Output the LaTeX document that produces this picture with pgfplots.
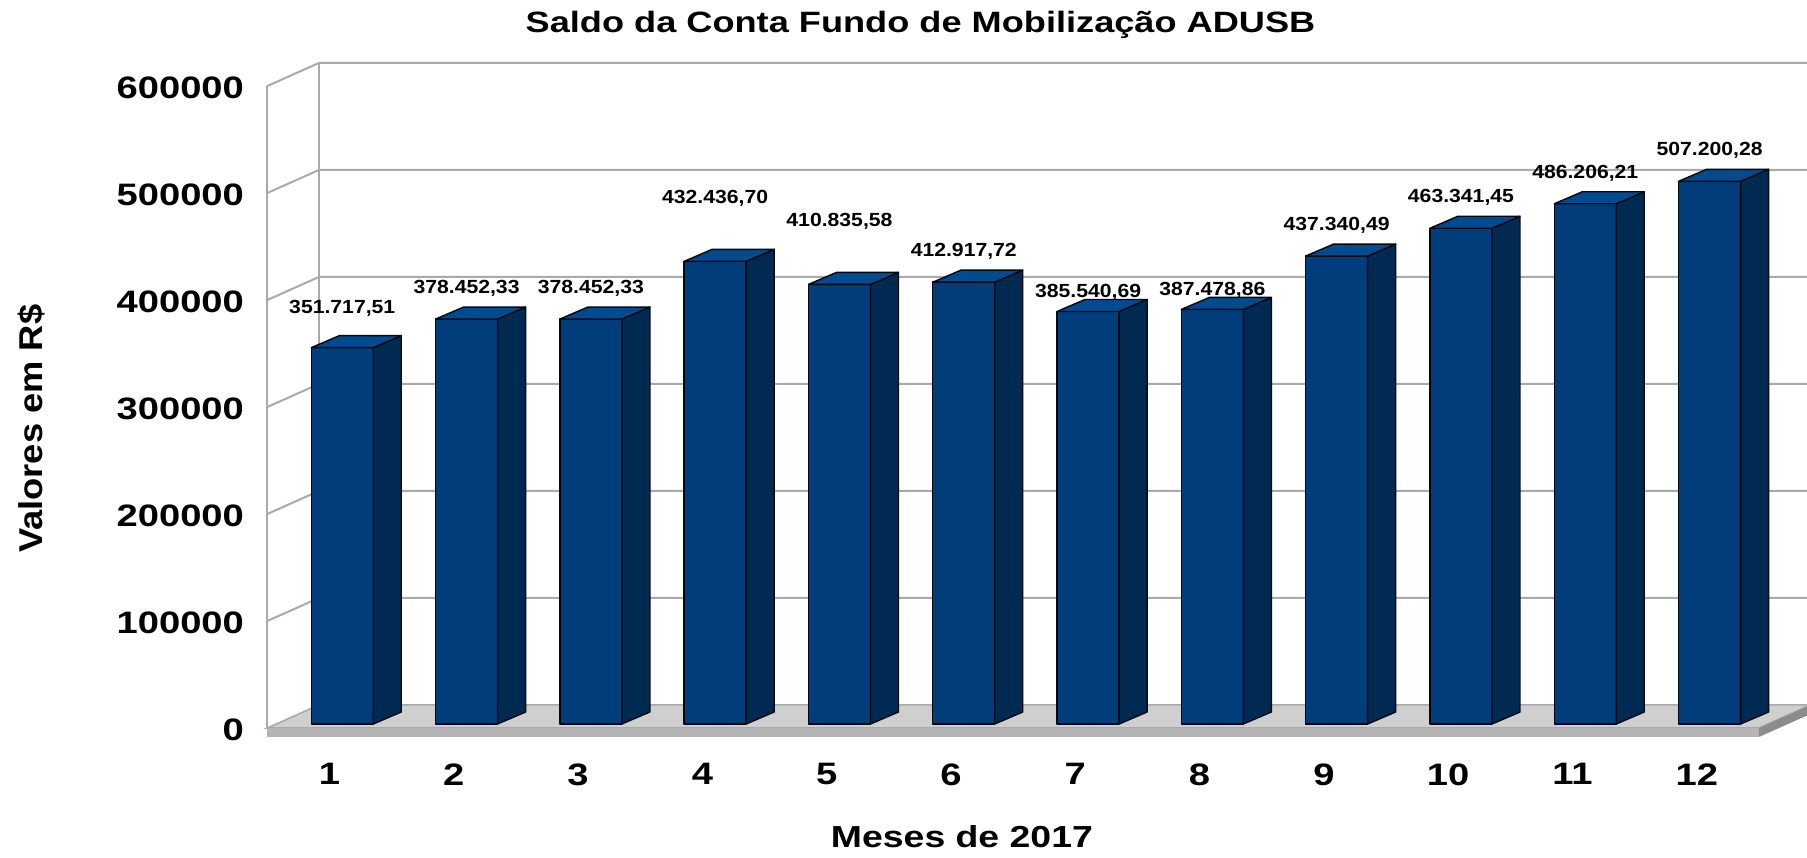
\documentclass[border=0pt]{standalone}
\usepackage{fontspec}
\setmainfont{Liberation Sans}[FakeStretch=1.23]
\newfontfamily\lab{Liberation Sans}[FakeStretch=1.115]
\newfontfamily\ylab{Liberation Sans}[FakeStretch=1.1]
\usepackage{pgfplots}
\pgfplotsset{compat=1.18}
\definecolor{barfront}{RGB}{0,61,122}
\definecolor{bartop}{RGB}{0,74,142}
\definecolor{barside}{RGB}{0,42,82}
\definecolor{gridc}{RGB}{170,170,170}
\definecolor{floortop}{RGB}{207,207,207}
\definecolor{floorfront}{RGB}{180,180,180}
\definecolor{floorside}{RGB}{140,140,140}

\newcommand{\dX}{0.4183}
\newcommand{\dY}{21682}
\newcommand{\bW}{0.4988}
\newcommand{\bA}{0.103}
\newcommand{\bB}{3738}
\newcommand{\bdX}{0.2253}
\newcommand{\bdY}{11215}

% #1 month, #2 value, #3 label text, #4 extra vertical shift of the label (pt)
\newcommand{\drawbar}[4]{%
  \edef\xL{\fpeval{#1+\bA-\bW/2}}%
  \edef\xR{\fpeval{#1+\bA+\bW/2}}%
  \edef\xLd{\fpeval{#1+\bA-\bW/2+\bdX}}%
  \edef\xRd{\fpeval{#1+\bA+\bW/2+\bdX}}%
  \edef\xC{\fpeval{#1+\bA}}%
  \edef\yB{\fpeval{\bB}}%
  \edef\yBd{\fpeval{\bB+\bdY}}%
  \edef\yT{\fpeval{#2+\bB}}%
  \edef\yTd{\fpeval{#2+\bB+\bdY}}%
  \edef\lsh{\fpeval{12.85+#4}pt}%
  \edef\temp{%
    \noexpand\addplot[barstyle, fill=barfront] coordinates {(\xL,\yB) (\xR,\yB) (\xR,\yT) (\xL,\yT)} -- cycle;
    \noexpand\addplot[barstyle, fill=barside] coordinates {(\xR,\yB) (\xRd,\yBd) (\xRd,\yTd) (\xR,\yT)} -- cycle;
    \noexpand\addplot[barstyle, fill=bartop] coordinates {(\xL,\yT) (\xR,\yT) (\xRd,\yTd) (\xLd,\yTd)} -- cycle;
    \noexpand\addplot[draw=none, valuelabel, every node near coord/.append style={yshift=\lsh}, nodes near coords={#3}] coordinates {(\xC,\yT)};
  }\temp
}

\newcommand{\gridlev}[1]{%
  \edef\xa{\fpeval{0.5+\dX}}%
  \edef\ya{\fpeval{#1+\dY}}%
  \edef\temp{%
    \noexpand\addplot[gridc, line width=1pt] coordinates {(0.5,#1) (\xa,\ya) (13.2,\ya)};
  }\temp
}

\begin{document}
\begin{tikzpicture}
\path[use as bounding box] (0,0) rectangle (903.5pt,428.5pt);
\begin{axis}[
  at={(133.65pt,64.5pt)}, anchor=south west,
  scale only axis, width=745.8pt, height=321pt,
  xmin=0.5, xmax=12.5, ymin=0, ymax=600000,
  clip=false, no markers,
  axis line style={draw=none}, tick style={draw=none}, major tick length=0pt,
  xtick={1,2,3,4,5,6,7,8,9,10,11,12},
  xticklabels={1,2,3,4,5,6,7,8,9,10,11,12},
  ytick={0,100000,200000,300000,400000,500000,600000},
  yticklabels={0,100000,200000,300000,400000,500000,600000},
  scaled y ticks=false,
  ticklabel style={font=\bfseries\fontsize{15.5}{18}\selectfont, text=black},
  yticklabel style={anchor=east, inner sep=0pt, xshift=-11.5pt, yshift=-1pt},
  xticklabel style={anchor=north, inner sep=0pt, yshift=-17.5pt},
  title={Saldo da Conta Fundo de Mobilização ADUSB},
  title style={at={(axis description cs:0.4379,1.0654)}, anchor=base, inner sep=0pt,
    font=\bfseries\fontsize{14.7}{17}\selectfont},
  xlabel={Meses de 2017},
  xlabel style={at={(axis description cs:0.4657,-0.1854)}, anchor=base, inner sep=0pt,
    font=\bfseries\fontsize{15.2}{18}\selectfont},
  ylabel={Valores em R\$},
  ylabel style={at={(axis description cs:-0.151,0.4662)}, anchor=base, rotate=0, inner sep=0pt,
    font=\ylab\bfseries\fontsize{16.5}{19}\selectfont},
  barstyle/.style={draw=black!85!barfront, line width=0.7pt, line join=round},
  valuelabel/.style={every node near coord/.append style={anchor=base, inner sep=0pt,
    font=\lab\bfseries\fontsize{9.5}{11}\selectfont, text=black}},
]
% back wall and left wall grid
\addplot[gridc, line width=1pt] coordinates {(0.5,0) (0.5,600000)};
\addplot[gridc, line width=1pt] coordinates {(0.9183,21682) (0.9183,621682)};
\gridlev{100000}
\gridlev{200000}
\gridlev{300000}
\gridlev{400000}
\gridlev{500000}
\gridlev{600000}
% floor
\addplot[fill=floortop, draw=gridc, line width=0.8pt] coordinates {(0.5,0) (12.5,0) (12.9183,21682) (0.9183,21682)} -- cycle;
\addplot[fill=floorfront, draw=none] coordinates {(0.5,0) (12.5,0) (12.5,-8411) (0.5,-8411)} -- cycle;
\addplot[fill=floorside, draw=none] coordinates {(12.5,0) (12.9183,21682) (12.9183,13271) (12.5,-8411)} -- cycle;
% bars
\drawbar{1}{351717.51}{351.717,51}{4}
\drawbar{2}{378452.33}{378.452,33}{0}
\drawbar{3}{378452.33}{378.452,33}{0}
\drawbar{4}{432436.70}{432.436,70}{16}
\drawbar{5}{410835.58}{410.835,58}{16}
\drawbar{6}{412917.72}{412.917,72}{0}
\drawbar{7}{385540.69}{385.540,69}{-6}
\drawbar{8}{387478.86}{387.478,86}{-6}
\drawbar{9}{437340.49}{437.340,49}{0}
\drawbar{10}{463341.45}{463.341,45}{0}
\drawbar{11}{486206.21}{486.206,21}{0}
\drawbar{12}{507200.28}{507.200,28}{0}
\end{axis}
\end{tikzpicture}
\end{document}
